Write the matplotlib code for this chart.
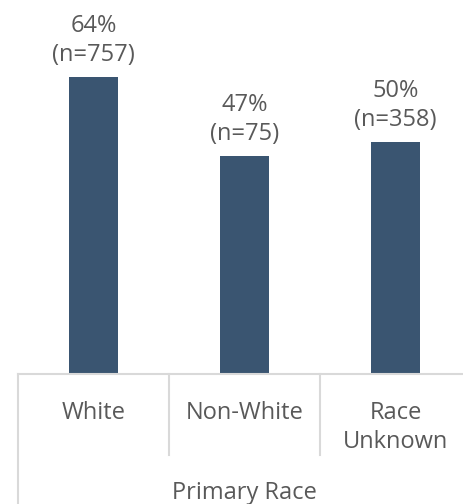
import matplotlib.pyplot as plt
from matplotlib.transforms import blended_transform_factory

categories = ["White", "Non-White", "Race\nUnknown"]
percents = [64, 47, 50]
counts = [757, 75, 358]
axis_title = "Primary Race"

bar_color = "#3A5571"
text_color = "#595959"
line_color = "#D9D9D9"

plt.rcParams["font.family"] = ["Open Sans", "DejaVu Sans"]

fig = plt.figure(figsize=(4.64, 5.04), dpi=100)
# axes run a little past the right edge of the figure
ax = fig.add_axes([18 / 464, 130 / 504, 453 / 464, 371 / 504])

x = list(range(len(categories)))
ax.bar(x, percents, width=0.318, color=bar_color, zorder=2)

for xi, p, n in zip(x, percents, counts):
    ax.annotate(f"{p}%\n(n={n})", xy=(xi, p), xytext=(0, 7),
                textcoords="offset points", ha="center", va="bottom",
                fontsize=17, color=text_color, linespacing=1.3)

ax.set_xlim(-0.5, len(categories) - 0.5)
ax.set_ylim(0, 80)
ax.set_xticks([])
ax.set_yticks([])
for side in ["top", "left", "right"]:
    ax.spines[side].set_visible(False)
ax.spines["bottom"].set_color(line_color)
ax.spines["bottom"].set_linewidth(1.5)

# category grid under the axis
trans = blended_transform_factory(ax.transData, ax.transAxes)
ax.plot([-0.5, -0.5], [0, -0.36], transform=trans, color=line_color,
        lw=1.5, clip_on=False)
for sep in [0.5, 1.5, 2.5]:
    ax.plot([sep, sep], [0, -0.218], transform=trans, color=line_color,
            lw=1.5, clip_on=False)

for xi, cat in zip(x, categories):
    ax.text(xi, -0.072, cat, transform=trans, ha="center", va="top",
            fontsize=17, color=text_color, linespacing=1.3)

ax.text(1, -0.322, axis_title, transform=trans, ha="center", va="center",
        fontsize=17, color=text_color)

fig.savefig("out.png", dpi=100)
